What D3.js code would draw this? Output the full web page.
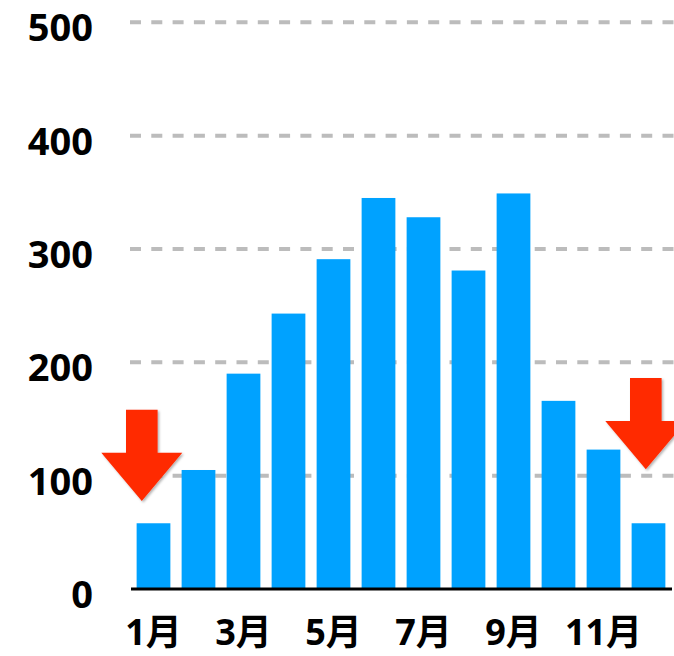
<!DOCTYPE html>
<html><head><meta charset="utf-8">
<script src="https://cdn.jsdelivr.net/npm/d3@7"></script>
<style>body{margin:0;background:#fff;}svg{display:block;}</style>
</head><body>
<svg id="c" width="674" height="656"></svg>
<script>
const months = ["1月","2月","3月","4月","5月","6月","7月","8月","9月","10月","11月","12月"];
const values = [58, 105, 190, 243, 291, 345, 328, 281, 349, 166, 123, 58];
const yTicks = [0, 100, 200, 300, 400, 500];
const xTickLabels = ["1月","3月","5月","7月","9月","11月"];
// arrow annotations: tip position in data space (month index offset, value)
const arrowMonths = [-0.26, 10.94];
const arrowValues = [77.6, 105.6];

const svg = d3.select("#c");
const font = "'Open Sans', 'Noto Sans CJK JP', sans-serif";
const x = d3.scaleBand().domain(months).range([131, 671]).paddingInner(0.25).paddingOuter(0.125);
const y = d3.scaleLinear().domain([0, 500]).range([589, 22.3]);
const xi = d3.scaleLinear().domain([0, 11]).range([x(months[0]) + x.bandwidth()/2, x(months[11]) + x.bandwidth()/2]);

// gridlines
svg.append("g").selectAll("line").data(yTicks.filter(d => d > 0)).join("line")
  .attr("x1", 130).attr("x2", 674)
  .attr("y1", d => y(d)).attr("y2", d => y(d))
  .attr("stroke", "#bcbcbc").attr("stroke-width", 4)
  .attr("stroke-dasharray", "11,10.3");

// y labels
svg.append("g").selectAll("text").data(yTicks).join("text")
  .attr("x", 93).attr("y", d => y(d) + 4)
  .attr("text-anchor", "end").attr("dominant-baseline", "central")
  .attr("font-family", font).attr("font-weight", 700).attr("font-size", 38)
  .attr("fill", "#000").text(d => d);

// bars
svg.append("g").selectAll("rect").data(values).join("rect")
  .attr("x", (d, i) => x(months[i]))
  .attr("width", x.bandwidth())
  .attr("y", d => y(d))
  .attr("height", d => y(0) - y(d))
  .attr("fill", "#00a2ff");

// baseline
svg.append("line").attr("x1", 131).attr("x2", 672).attr("y1", y(0)).attr("y2", y(0))
  .attr("stroke", "#000").attr("stroke-width", 3);

// x labels
svg.append("g").selectAll("text").data(xTickLabels).join("text")
  .attr("x", d => x(d) + x.bandwidth()/2).attr("y", 645)
  .attr("text-anchor", "middle")
  .attr("font-family", font).attr("font-weight", 700).attr("font-size", 36)
  .attr("fill", "#000").text(d => d);

// arrows
const defs = svg.append("defs");
const f = defs.append("filter").attr("id", "sh").attr("x", "-20%").attr("y", "-20%").attr("width", "140%").attr("height", "140%");
f.append("feDropShadow").attr("dx", 1.5).attr("dy", 1.5).attr("stdDeviation", 1.2).attr("flood-color", "#000").attr("flood-opacity", 0.3);

function arrowPath(tx, ty) {
  const sw = 15.8, hw = 40.5, hh = 48.3, sh = 43;
  return `M${tx - sw},${ty - hh - sh} L${tx + sw},${ty - hh - sh} L${tx + sw},${ty - hh} L${tx + hw},${ty - hh} L${tx},${ty} L${tx - hw},${ty - hh} L${tx - sw},${ty - hh} Z`;
}
svg.append("g").selectAll("path").data(arrowMonths).join("path")
  .attr("d", (d, i) => arrowPath(xi(d), y(arrowValues[i])))
  .attr("fill", "#ff2a00").attr("filter", "url(#sh)");
</script>
</body></html>
